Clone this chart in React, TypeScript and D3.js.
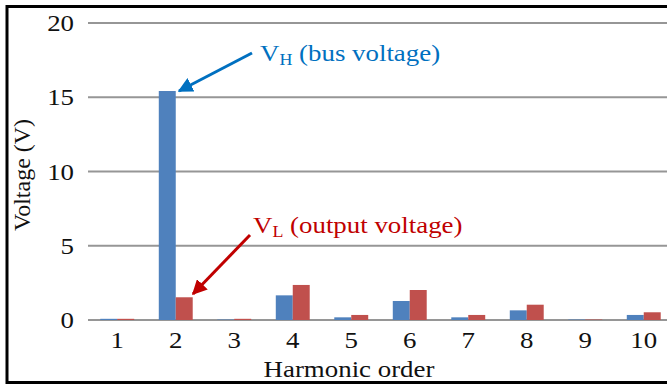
import React from "react";
import * as d3 from "d3";

const orders = ["1", "2", "3", "4", "5", "6", "7", "8", "9", "10"];
const busVoltage = [0.08, 15.42, 0.03, 1.66, 0.18, 1.28, 0.18, 0.65, 0.03, 0.34];
const outputVoltage = [0.08, 1.53, 0.08, 2.36, 0.34, 2.02, 0.34, 1.03, 0.03, 0.52];
const yTicks = [0, 5, 10, 15, 20];
const seriesKeys = ["VH", "VL"];

const W = 667;
const H = 385;
const FONT = "Times New Roman";
const SX = 1.12; // text in the reference is a bit wide

const x0 = d3.scaleBand<string>().domain(orders).range([88, 673]).paddingInner(0.42).paddingOuter(0.21);
const x1 = d3.scaleBand<string>().domain(seriesKeys).range([0, x0.bandwidth()]);
const y = d3.scaleLinear().domain([0, 20]).range([320, 23]);
const color = d3.scaleOrdinal<string, string>().domain(seriesKeys).range(["#4F81BD", "#C0504D"]);

const Txt = ({ x, y: yy, anchor = "start", fill = "#111", children }: any) => (
  <text
    transform={`translate(${x},${yy}) scale(${SX},1)`}
    textAnchor={anchor}
    fill={fill}
    style={{ fontFamily: FONT, fontSize: 24 }}
  >
    {children}
  </text>
);

const Annot = ({ x, y: yy, sub, rest, fill }: any) => (
  <Txt x={x} y={yy} fill={fill}>
    <tspan>V</tspan>
    <tspan dy={4} style={{ fontSize: 16 }}>{sub}</tspan>
    <tspan dy={-4}>{" " + rest}</tspan>
  </Txt>
);

const App = () => {
  const rows = orders.map((o, i) => ({ order: o, VH: busVoltage[i], VL: outputVoltage[i] }));

  return (
    <div style={{ position: "absolute", left: 0, top: 0, fontFamily: FONT }}>
      <svg width={W} height={H} style={{ display: "block", background: "#fff" }}>
        <defs>
          {[["ahBlue", "#0070C0"], ["ahRed", "#C00000"]].map(([id, c]) => (
            <marker key={id} id={id} viewBox="0 0 10 10" refX={9} refY={5}
              markerWidth={5} markerHeight={5} markerUnits="strokeWidth" orient="auto">
              <path d="M0,0 L10,5 L0,10 Z" fill={c} />
            </marker>
          ))}
        </defs>

        {/* gridlines */}
        {yTicks.map((t) => (
          <line key={t} x1={88} x2={W} y1={y(t)} y2={y(t)} stroke="#969696" strokeWidth={1.8} />
        ))}

        {/* bars */}
        {rows.map((r) => (
          <g key={r.order} transform={`translate(${x0(r.order)},0)`}>
            {seriesKeys.map((k) => {
              const v = (r as any)[k] as number;
              return (
                <rect key={k} x={x1(k)} width={x1.bandwidth()} y={y(v)} height={y(0) - y(v)} fill={color(k)} />
              );
            })}
          </g>
        ))}

        {/* y tick labels */}
        {yTicks.map((t) => (
          <Txt key={t} x={74} y={y(t) + 8} anchor="end">{String(t)}</Txt>
        ))}

        {/* x tick labels */}
        {orders.map((o) => (
          <Txt key={o} x={x0(o)! + x0.bandwidth() / 2} y={348} anchor="middle">{o}</Txt>
        ))}

        <Txt x={349} y={377} anchor="middle">Harmonic order</Txt>
        <text transform="translate(30,175) rotate(-90)" textAnchor="middle" fill="#111"
          style={{ fontFamily: FONT, fontSize: 24 }}>
          Voltage (V)
        </text>

        {/* annotations */}
        <Annot x={260} y={61} sub="H" rest="(bus voltage)" fill="#0070C0" />
        <Annot x={253} y={233} sub="L" rest="(output voltage)" fill="#C00000" />
        <line x1={252} y1={53} x2={179} y2={91} stroke="#0070C0" strokeWidth={3} markerEnd="url(#ahBlue)" />
        <line x1={250} y1={235} x2={193} y2={294} stroke="#C00000" strokeWidth={3} markerEnd="url(#ahRed)" />

        {/* frame */}
        <rect x={7} y={6.5} width={720} height={376} fill="none" stroke="#000" strokeWidth={3} />
      </svg>
    </div>
  );
};

export default App;
